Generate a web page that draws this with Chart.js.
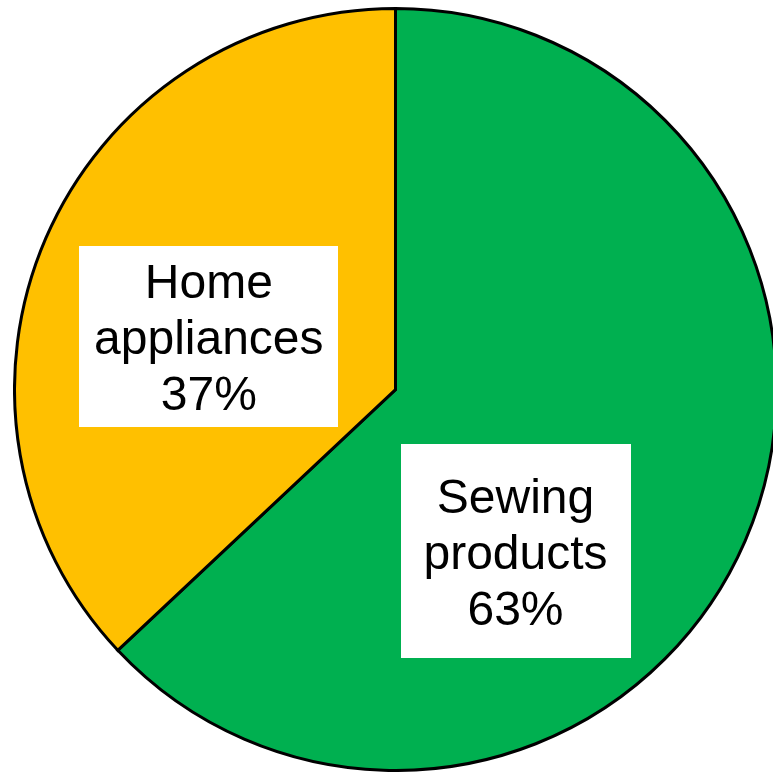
<!DOCTYPE html>
<html>
<head>
<meta charset="utf-8">
<title>Sales composition</title>
<script src="https://cdn.jsdelivr.net/npm/chart.js@4/dist/chart.umd.min.js"></script>
<style>
  html, body { margin: 0; padding: 0; background: #ffffff; overflow: hidden; width: 773px; height: 773px; }
  #wrap { position: absolute; left: 12.5px; top: 7px; width: 765px; height: 765px; }
</style>
</head>
<body>
<div id="wrap"><canvas id="pie" width="765" height="765"></canvas></div>
<script>
// Share of sales by business segment (%)
const categories = ["Sewing products", "Home appliances"];
const shares = [63, 37];
const sliceColors = ["#00B050", "#FFC000"];

// Where each white label box sits, as a fraction of the radius from the centre,
// plus the box size in px
const labelBoxes = [
  { dx: 0.315, dy: 0.425, w: 230, h: 214 },
  { dx: -0.490, dy: -0.139, w: 259, h: 181 }
];

const boxLabels = {
  id: 'boxLabels',
  afterDatasetsDraw(chart) {
    const ctx = chart.ctx;
    const meta = chart.getDatasetMeta(0);
    const fontSize = 48;
    const lineH = 56;
    ctx.save();
    meta.data.forEach((arc, i) => {
      const box = labelBoxes[i];
      const r = arc.outerRadius;
      const cx = arc.x + box.dx * r;
      const cy = arc.y + box.dy * r;
      ctx.fillStyle = '#ffffff';
      ctx.fillRect(Math.round(cx - box.w / 2), Math.round(cy - box.h / 2), box.w, box.h);
      const lines = categories[i].split(' ').concat([shares[i] + '%']);
      ctx.fillStyle = '#000000';
      ctx.font = fontSize + 'px "Liberation Sans", Arial, sans-serif';
      ctx.textAlign = 'center';
      ctx.textBaseline = 'alphabetic';
      const mid = (lines.length - 1) / 2;
      lines.forEach((t, k) => {
        ctx.fillText(t, cx, cy + 17.5 + (k - mid) * lineH);
      });
    });
    ctx.restore();
  }
};

new Chart(document.getElementById('pie'), {
  type: 'pie',
  data: {
    labels: categories,
    datasets: [{
      data: shares,
      backgroundColor: sliceColors,
      borderColor: '#000000',
      borderWidth: 3,
      borderJoinStyle: 'miter'
    }]
  },
  options: {
    responsive: false,
    animation: false,
    layout: { padding: 0 },
    plugins: {
      legend: { display: false },
      tooltip: { enabled: false }
    }
  },
  plugins: [boxLabels]
});
</script>
</body>
</html>
